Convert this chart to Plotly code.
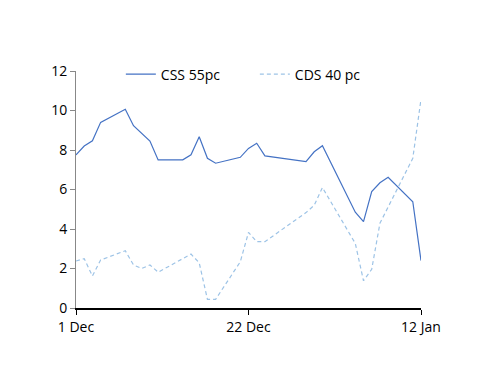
import plotly.graph_objects as go

css_dates = ["2015-12-01","2015-12-02","2015-12-03","2015-12-04","2015-12-07","2015-12-08",
             "2015-12-10","2015-12-11","2015-12-14","2015-12-15","2015-12-16","2015-12-17",
             "2015-12-18","2015-12-21","2015-12-22","2015-12-23","2015-12-24","2015-12-29",
             "2015-12-30","2015-12-31","2016-01-04","2016-01-05","2016-01-06","2016-01-07",
             "2016-01-08","2016-01-11","2016-01-12"]
css_values = [7.75, 8.2, 8.47, 9.4, 10.06, 9.23,
              8.45, 7.5, 7.5, 7.76, 8.67, 7.58,
              7.33, 7.63, 8.08, 8.34, 7.7, 7.41,
              7.91, 8.22, 4.85, 4.37, 5.89, 6.34,
              6.62, 5.38, 2.4]

cds_dates = ["2015-12-01","2015-12-02","2015-12-03","2015-12-04","2015-12-07","2015-12-08",
             "2015-12-09","2015-12-10","2015-12-11","2015-12-15","2015-12-16","2015-12-17",
             "2015-12-18","2015-12-21","2015-12-22","2015-12-23","2015-12-24","2015-12-29",
             "2015-12-30","2015-12-31","2016-01-04","2016-01-05","2016-01-06","2016-01-07",
             "2016-01-11","2016-01-12"]
cds_values = [2.38, 2.5, 1.62, 2.43, 2.9, 2.18,
              2.0, 2.18, 1.81, 2.73, 2.29, 0.44,
              0.44, 2.34, 3.83, 3.36, 3.36, 4.83,
              5.2, 6.1, 3.27, 1.38, 1.96, 4.29,
              7.58, 10.57]

tick_vals = ["2015-12-01", "2015-12-22", "2016-01-12"]
tick_text = ["1 Dec", "22 Dec", "12 Jan"]

fig = go.Figure()
fig.add_trace(go.Scatter(x=css_dates, y=css_values, mode="lines", name="CSS 55pc",
                         line=dict(color="#4472C4", width=1.2)))
fig.add_trace(go.Scatter(x=cds_dates, y=cds_values, mode="lines", name="CDS 40 pc",
                         line=dict(color="#9DC3E6", width=1.2, dash="4px,3px")))

fig.update_layout(
    width=500, height=386,
    margin=dict(l=68, r=87, t=63, b=86),
    paper_bgcolor="white", plot_bgcolor="white",
    font=dict(family="Open Sans, DejaVu Sans, sans-serif", size=14, color="black"),
    showlegend=True,
    legend=dict(orientation="h", x=0.13, y=0.985, xanchor="left", yanchor="middle",
                font=dict(size=14), entrywidth=89, entrywidthmode="pixels",
                bgcolor="rgba(0,0,0,0)"),
    xaxis=dict(type="date", range=["2015-12-01", "2016-01-12"],
               tickvals=tick_vals, ticktext=tick_text,
               showgrid=False, zeroline=False, showline=True, linecolor="black",
               linewidth=1.5, ticks="outside", tickcolor="black", ticklen=5),
    yaxis=dict(range=[0, 12], tickvals=[0, 2, 4, 6, 8, 10, 12],
               showgrid=False, zeroline=False, showline=True, linecolor="#888888",
               linewidth=1, ticks="outside", tickcolor="#888888", ticklen=5),
)

fig.write_html("out.html")
